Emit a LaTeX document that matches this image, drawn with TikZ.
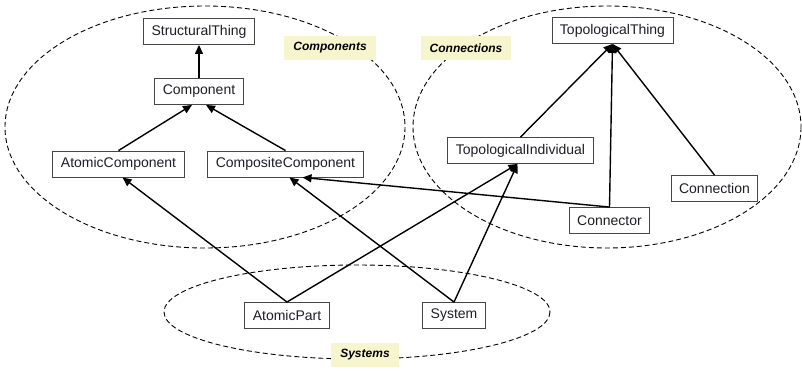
\documentclass[tikz,border=0pt]{standalone}
\usepackage{fontspec}
\setmainfont{Liberation Sans}
\usetikzlibrary{arrows.meta}
\definecolor{labelyellow}{RGB}{247,245,205}
\definecolor{boxline}{RGB}{70,70,70}
\definecolor{txt}{RGB}{30,30,40}
\tikzset{
  cls/.style={draw=boxline, line width=0.9pt, fill=white, inner xsep=8pt, inner ysep=0pt,
              minimum height=26pt, font=\fontsize{14}{16}\selectfont, text=txt},
  grp/.style={fill=labelyellow, inner xsep=9pt, minimum height=24pt,
              font=\fontsize{12}{14}\selectfont\bfseries\itshape},
  region/.style={draw, dashed, dash pattern=on 5pt off 3pt, line width=0.9pt},
  isa/.style={line width=1.4pt, -{Triangle[length=9pt,width=8pt]}}
}
\begin{document}
\begin{tikzpicture}[x=1pt,y=-1pt]
\useasboundingbox (0,0) rectangle (802,370);
% regions
\draw[region] (205,127) ellipse [x radius=200, y radius=121];
\draw[region] (607,127) ellipse [x radius=194, y radius=121];
\draw[region] (357,312) ellipse [x radius=193, y radius=47];
% group labels
\node[grp] (lcomp) at (330,48) {Components};
\node[grp] (lconn) at (466,48) {Connections};
\node[grp] (lsys) at (365,354.5) {Systems};
% classes
\node[cls] (st) at (199,31.5) {StructuralThing};
\node[cls] (comp) at (199,91.5) {Component};
\node[cls] (ac) at (118.5,164) {AtomicComponent};
\node[cls] (cc) at (285.5,164) {CompositeComponent};
\node[cls] (tt) at (612.5,30.5) {TopologicalThing};
\node[cls] (ti) at (520.5,150.5) {TopologicalIndividual};
\node[cls] (cn) at (714.5,188.5) {Connection};
\node[cls] (con) at (609.5,220.5) {Connector};
\node[cls] (ap) at (287,315.5) {AtomicPart};
\node[cls] (sys) at (454,315.5) {System};
% generalizations
\draw[isa] (comp.north) -- (st.south);
\draw[isa] (ac.north) -- ([xshift=-7pt]comp.south);
\draw[isa] (cc.north) -- ([xshift=7pt]comp.south);
\draw[isa] (ti.north) -- (tt.south);
\draw[isa] (con.north) -- (tt.south);
\draw[isa] (cn.north) -- (tt.south);
\draw[isa] (con.north) -- ([xshift=17pt]cc.south);
\draw[isa] (ap.north) -- ([xshift=4pt]ac.south);
\draw[isa] (ap.north) -- ([xshift=-3pt]ti.south);
\draw[isa] (sys.north) -- ([xshift=4pt]cc.south);
\draw[isa] (sys.north) -- ([xshift=-3pt]ti.south);
\end{tikzpicture}
\end{document}
